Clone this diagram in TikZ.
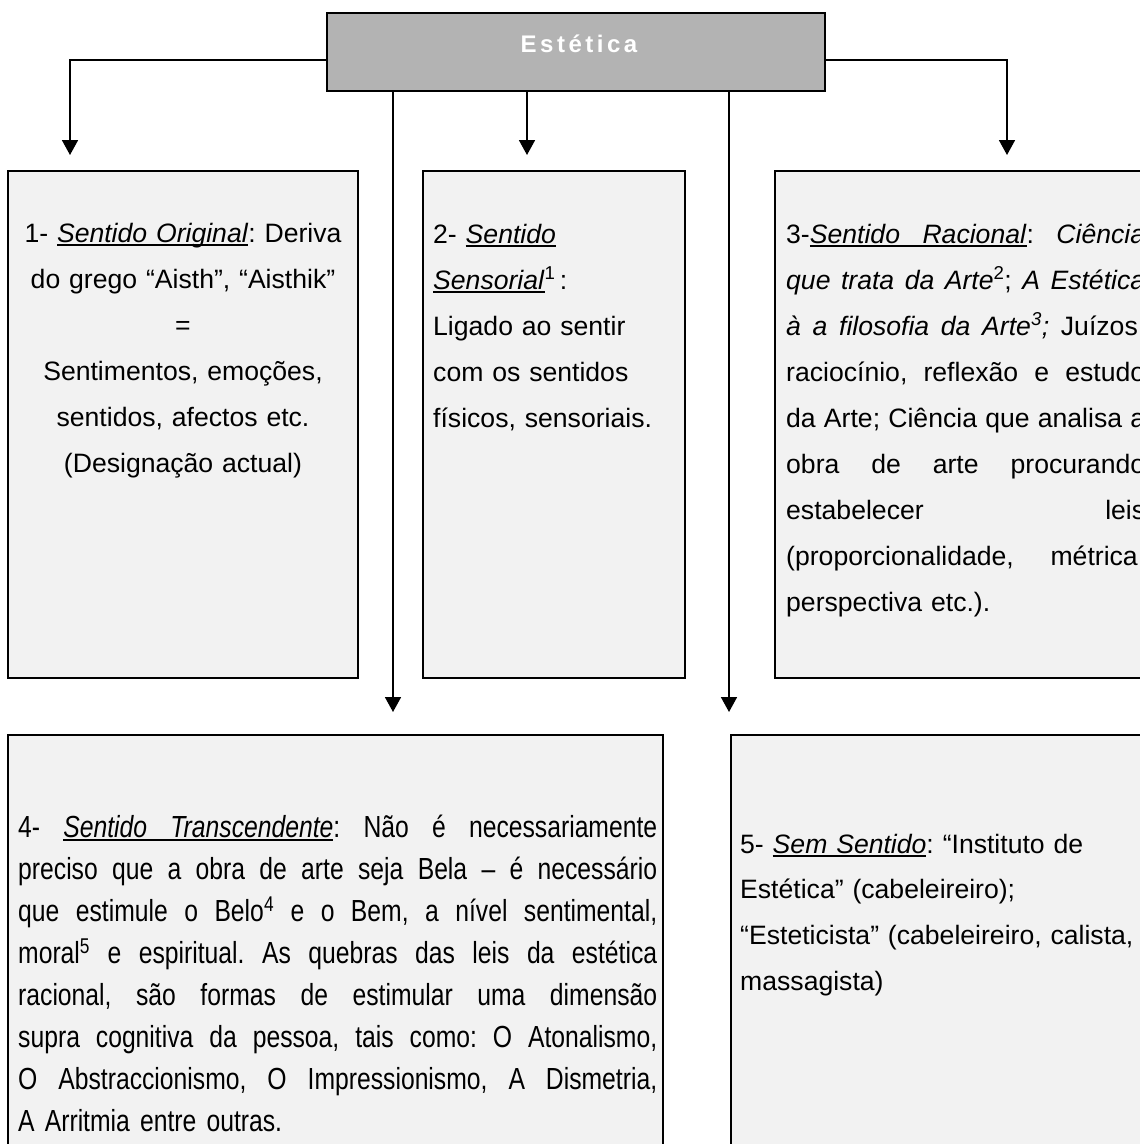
\documentclass[tikz,border=0pt]{standalone}
\usepackage{fontspec}
\setmainfont{Liberation Sans}
\newfontfamily\narrowfont[FakeStretch=0.81]{Liberation Sans}
\usetikzlibrary{arrows.meta}
\frenchspacing
\definecolor{topgray}{HTML}{B3B3B3}
\definecolor{boxfill}{HTML}{F2F2F2}
\newcommand\ulrule{\vrule height -2.4pt depth 3.7pt}
\newcommand\ulword[1]{\leavevmode\setbox0\hbox{#1}\rlap{\ulrule width \wd0}\box0}
\newcommand\ulsp{\leaders\ulrule\hskip\fontdimen2\font plus\fontdimen3\font minus\fontdimen4\font\relax}
\newcommand\lsp{\kern3.5pt}
\newcommand\jline[1]{\makebox[\linewidth][s]{\spaceskip=0pt\xspaceskip=0pt\relax #1}}
\begin{document}
\begin{tikzpicture}[x=1pt,y=-1pt,
  box/.style={draw=black, line width=2.2pt, fill=boxfill, inner sep=0pt, outer sep=0pt, anchor=north west},
  conn/.style={line width=1.8pt, -{Triangle[width=16pt,length=15pt]}},
  txt/.style={inner sep=0pt, font=\fontsize{26.6}{46}\selectfont, anchor=base west}]
\path[use as bounding box] (0,0) rectangle (1140,1144);
\clip (0,0) rectangle (1140,1144);
% boxes
\node[box, minimum width=350pt, minimum height=507pt] (b1) at (8,171) {};
\node[box, minimum width=262pt, minimum height=507pt] (b2) at (423,171) {};
\node[box, minimum width=420pt, minimum height=507pt] (b3) at (775,171) {};
\node[box, minimum width=655pt, minimum height=460pt] (b4) at (8,735) {};
\node[box, minimum width=460pt, minimum height=460pt] (b5) at (731,735) {};
% top
\node[draw=black, line width=2.2pt, fill=topgray, minimum width=498pt, minimum height=78pt, inner sep=0pt, outer sep=0pt] (top) at (576,52) {};
\node[inner sep=0pt, text=white, font=\bfseries\fontsize{24}{28}\selectfont] (topt) at (579,44) {E\lsp s\lsp t\lsp é\lsp t\lsp i\lsp c\lsp a};
% connectors
\coordinate (a1) at (70,155);
\coordinate (a2) at (527,155);
\coordinate (a3) at (1007,155);
\coordinate (a4) at (393,712);
\coordinate (a5) at (729,712);
\draw[conn] (top.west |- 0,60) -| (a1);
\draw[conn] (top.east |- 0,60) -| (a3);
\draw[conn] (top.south -| a2) -- (a2);
\draw[conn] (top.south -| a4) -- (a4);
\draw[conn] (top.south -| a5) -- (a5);
% texts
\node[txt, anchor=base, text width=350pt] (t1) at (183,242)
  {\centering 1- \ulword{\textit{Sentido Original}}: Deriva\\ do grego “Aisth”, “Aisthik”\\ =\\ Sentimentos, emoções,\\ sentidos, afectos etc.\\ (Designação actual)\par};
\node[txt, text width=250pt] (t2) at (433,243)
  {2- \ulword{\textit{Sentido}}\\ \ulword{\textit{Sensorial}}\textsuperscript{1}\,:\\ Ligado ao sentir\\ com os sentidos\\ físicos, sensoriais.};
\node[txt, text width=359pt] (t3) at (786,243)
  {\jline{3-\ulword{\textit{Sentido}}\ulsp\ulword{\textit{Racional}}: \textit{Ciência}}\\
   \jline{\textit{que trata da Arte}\textsuperscript{2}; \textit{A Estética}}\\
   \jline{\textit{à a filosofia da Arte\textsuperscript{3};} Juízos,}\\
   \jline{raciocínio, reflexão e estudo}\\
   \jline{da Arte; Ciência que analisa a}\\
   \jline{obra de arte procurando}\\
   \jline{estabelecer leis}\\
   \jline{(proporcionalidade, métrica,}\\
   perspectiva etc.).};
\node[txt, font={\narrowfont\fontsize{30.5}{42}\selectfont}, text width=639pt] (t4) at (18,837)
  {\jline{4- \ulword{\textit{Sentido}}\ulsp\ulword{\textit{Transcendente}}: Não é necessariamente}\\
   \jline{preciso que a obra de arte seja Bela – é necessário}\\
   \jline{que estimule o Belo\textsuperscript{4} e o Bem, a nível sentimental,}\\
   \jline{moral\textsuperscript{5} e espiritual. As quebras das leis da estética}\\
   \jline{racional, são formas de estimular uma dimensão}\\
   \jline{supra cognitiva da pessoa, tais como: O Atonalismo,}\\
   \jline{O Abstraccionismo, O Impressionismo, A Dismetria,}\\
   A Arritmia entre outras.};
\node[txt, font=\fontsize{26.6}{45.7}\selectfont, text width=420pt] (t5) at (740,853)
  {5- \ulword{\textit{Sem Sentido}}: “Instituto de\\ Estética” (cabeleireiro);\\ “Esteticista” (cabeleireiro, calista,\\ massagista)};
\end{tikzpicture}
\end{document}
